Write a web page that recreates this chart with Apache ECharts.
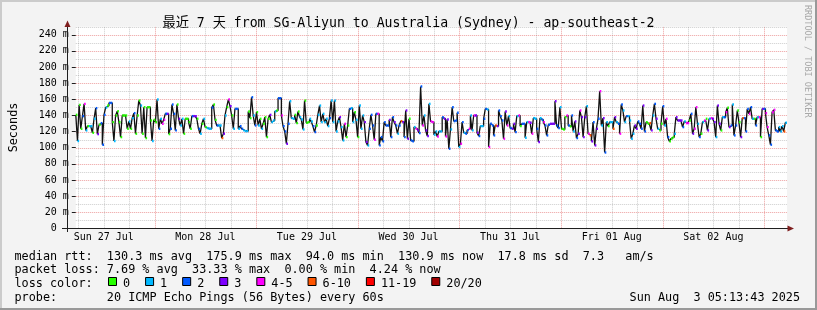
<!DOCTYPE html>
<html><head><meta charset="utf-8">
<script src="https://cdn.jsdelivr.net/npm/echarts@6/dist/echarts.min.js"></script>
<style>html,body{margin:0;padding:0;background:#f3f3f3}#c{width:817px;height:310px}</style>
</head><body><div id="c"></div>
<script>
// ---- data (median rtt in ms, loss bucket index per step) ----
const rttPart1 = [140.7,108.2,153.1,123.4,139.1,154.3,121.4,126.7,126.7,126.7,
118.5,135.8,149.0,116.8,128.4,130.4,103.7,140.7,149.8,152.2,
155.5,155.5,131.7,108.2,139.9,145.2,131.7,113.1,139.9,139.9,
139.9,123.4,132.5,123.4,136.6,142.8,117.3,139.9,158.4,152.2,
117.3,150.2,111.9,150.2,150.2,133.7,108.2,134.5,131.7,159.7,
123.4,135.8,129.6,134.5,142.0,142.0,116.8,123.4,153.5,142.0,
121.4,153.5,135.8,127.5,135.8,117.3,135.8,135.8,131.7,123.4,
139.1,139.1,139.1,135.8,123.4,117.3,129.6,135.8,125.5,124.3,
123.4,123.4,149.8,153.5,134.5,127.5,127.5,127.5,111.9,117.3,
139.9,150.2,159.7,151.4,139.9,123.4,148.1,148.1,123.4,126.7,
123.4,121.4,120.5,120.5,144.8,136.6,162.5];
const lossPart1 = [0,1,0,0,2,4,1,0,1,1,
0,1,2,3,0,2,2,2,1,0,2,2,
0,1,0,0,0,0,0,0,0,
0,1,0,1,2,0,0,0,1,0,0,0,0,0,
0,1,0,0,1,2,1,4,4,2,3,0,2,2,2,
2,0,3,1,1,0,0,0,
0,0,2,3,3,
0,2,1,0,1,0,1,1,1,
2,0,0,2,1,1,
5,3,1,0,4,3,0,1,2,2,
1,2,2,1,1,1,
0,0,2];
const rttPart2 = [139.9,127.5,144.0,127.5,135.8,123.4,129.6,137.8,113.1,135.8,
140.7,131.7,133.7,144.8,146.1,161.3,161.3,139.9,126.7,120.1,
104.9,129.6,157.6,136.6,135.8,140.7,130.4,144.8,137.8,135.0,
122.6,158.4,130.8,131.7,135.8,132.5,126.7,119.3,127.5,140.7,
152.2,131.7,142.0,131.7,135.8,126.7,136.6,158.4,131.7,158.4,
120.1,132.5,137.8,125.5,109.0,129.6,113.1,127.5,148.1,149.0,
131.7,144.0,134.5,113.1,152.2,123.4,139.9,131.7,107.0,102.8,
123.4,140.7,127.5,109.8,142.0,142.0,102.8,113.1,107.8,131.7,
127.5,127.5,134.5,113.1,137.8,131.7,127.5,117.3,127.5,132.9,
131.7,113.1,146.1,111.1,135.8,109.0,107.8,125.5,123.4,121.4,
118.1,175.9,127.5,139.9,121.4,114.4,154.3];
const lossPart2 = [1,2,0,1,0,1,0,0,0,0,
3,1,1,1,0,2,2,4,2,2,
3,2,1,1,1,0,0,0,1,1,
1,0,0,0,1,1,2,2,0,1,
1,1,1,1,1,1,2,1,1,1,
1,1,3,1,1,4,0,0,2,1,
1,0,1,0,1,1,1,3,3,1,
2,2,2,4,2,4,2,2,2,2,
2,2,3,2,2,3,2,1,2,5,
3,2,3,3,0,2,2,1,4,3,
2,2,4,1,3,3,1];
const rttPart3 = [132.5,131.7,116.0,120.1,113.9,120.1,120.1,137.8,135.8,113.9,
135.0,98.7,122.6,150.2,132.9,133.7,143.2,100.8,104.9,131.7,
118.5,117.3,121.4,123.4,139.9,121.4,139.9,139.9,118.5,114.4,
126.7,126.7,135.8,148.1,147.3,100.8,129.6,127.5,115.2,127.5,
126.7,146.1,139.1,133.7,111.1,144.8,127.5,139.1,124.3,123.4,
129.6,119.3,139.1,139.9,126.7,129.6,129.6,112.3,131.7,131.7,
130.8,117.3,136.6,135.8,123.4,107.0,136.6,134.5,131.7,127.5,
115.2,128.4,129.6,129.6,129.6,157.6,127.5,124.3,150.2,123.4,
122.6,137.8,139.9,127.5,126.3,139.9,120.1,132.5,111.9,117.3,
146.1,137.8,113.1,137.8,151.4,117.3,115.2,107.8,131.7,102.8,
123.4,135.8,170.0,127.5,136.6,94.0,131.7,126.7];
const lossPart3 = [4,4,1,1,4,1,1,2,3,4,
3,2,1,2,2,2,2,1,4,2,
1,2,2,4,1,1,4,3,3,2,
1,1,2,2,1,4,2,2,2,5,
3,2,2,2,4,3,4,1,2,3,
3,2,1,4,0,2,2,1,1,4,
3,4,1,1,2,3,1,2,4,2,
2,2,3,3,3,3,2,2,1,0,
0,0,4,2,0,2,1,3,2,3,
4,3,3,3,1,4,5,3,2,3,
3,2,4,1,3,2,1,0];
const rttPart4 = [131.7,131.7,123.4,137.8,131.7,129.6,117.3,153.5,146.1,131.7,
139.1,139.1,133.7,111.1,117.3,127.5,123.4,132.5,129.6,123.4,
152.2,120.1,131.7,129.6,130.4,121.4,139.9,154.3,135.8,123.4,
121.4,129.6,151.4,127.5,135.8,113.1,107.8,111.1,113.1,117.3,
137.8,133.7,133.7,133.7,125.5,132.5,130.4,130.4,133.7,142.0,
117.3,123.4,150.2,129.6,113.1,117.3,131.7,133.7,135.8,121.4,
135.8,136.6,135.8,131.7,113.1,152.2,129.6,121.4,137.8,137.8,
144.0,149.4,125.5,127.5,153.5,115.2,127.5,146.1,131.7,113.1,
136.6,136.6,120.1,148.1,142.0,150.2,135.8,135.8,127.5,137.8,
137.8,113.1,148.1,148.1,142.8,125.5,115.2,103.7,144.0,146.9,
121.4,120.1,125.5,120.1,126.7,120.1,130.9];
const lossPart4 = [1,1,5,3,1,2,4,2,1,1,
2,1,1,1,1,3,3,2,2,2,
3,2,0,0,5,3,1,2,3,1,
0,0,2,1,4,2,0,0,0,1,
3,3,3,3,2,1,4,4,0,2,
3,4,4,1,2,0,1,4,0,3,
1,4,3,3,1,3,3,0,1,2,
4,0,3,2,1,2,2,0,0,3,
5,2,2,2,4,2,1,0,2,1,
4,0,3,2,4,4,2,2,4,4,
2,2,1,1,1,5,1];

const dayLabels = ['Sun 27 Jul','Mon 28 Jul','Tue 29 Jul','Wed 30 Jul','Thu 31 Jul','Fri 01 Aug','Sat 02 Aug'];
const yTickValues = [0,20,40,60,80,100,120,140,160,180,200,220,240];
const lossColors = ['#26ff00','#00b8ff','#0059ff','#7e00ff','#ff00ff','#ff5500','#ff0000','#a10000'];
const lossLabels = ['0','1','2','3','4-5','6-10','11-19','20/20'];
const titleText = '最近 7 天 from SG-Aliyun to Australia (Sydney) - ap-southeast-2';
const legendLine1 = 'median rtt:  130.3 ms avg  175.9 ms max  94.0 ms min  130.9 ms now  17.8 ms sd  7.3   am/s';
const legendLine2 = 'packet loss: 7.69 % avg  33.33 % max  0.00 % min  4.24 % now';
const legendLine3 = 'loss color:';
const legendLine4 = 'probe:       20 ICMP Echo Pings (56 Bytes) every 60s';
const stampText = 'Sun Aug  3 05:13:43 2025';
const sideText = 'RRDTOOL / TOBI OETIKER';

// ---- build ----
const T0 = 5.4, SPAN = 168, YMAX = 250;   // hours since Sun 27 Jul 00:00
const rtt = rttPart1.concat(rttPart2, rttPart3, rttPart4);
const loss = lossPart1.concat(lossPart2, lossPart3, lossPart4);
const N = rtt.length, dt = SPAN / N;
const stepData = rtt.map((v, i) => [T0 + i * dt, v]);
stepData.push([T0 + SPAN, rtt[N - 1]]);
const capData = rtt.map((v, i) => [T0 + i * dt, v, T0 + (i + 1) * dt, loss[i]]);

const vGrid = [];
for (let h = 6; h < T0 + SPAN; h += 6) if (h > T0) vGrid.push([h, 0, h % 24 === 0 ? 1 : 0]);
const hGrid = [];
for (let v = 10; v <= YMAX; v += 10) hGrid.push([T0, v, v % 20 === 0 ? 1 : 0]);
const noonTicks = dayLabels.map((d, i) => 12 + 24 * i);

const MONO = '"DejaVu Sans Mono", "Noto Sans CJK SC", monospace';
const MINOR = 'rgba(143,143,143,0.45)', MAJOR = 'rgba(222,80,80,0.55)';
const LEG_X = 14.5, LEG_Y = [256.5, 270.2, 283.9, 297.6];

const chart = echarts.init(document.getElementById('c'), null, {renderer: 'canvas'});

const legendText = (t, x, y, align) => ({type:'text', x:x, y:y,
  style:{text:t, font:'11.8px '+MONO, fill:'#000', align:align || 'left', verticalAlign:'middle'}});

const graphics = [
  {type:'rect', shape:{x:0,y:0,width:817,height:2}, style:{fill:'#cbcbcb'}, z:100},
  {type:'rect', shape:{x:0,y:0,width:2,height:310}, style:{fill:'#cbcbcb'}, z:100},
  {type:'rect', shape:{x:815,y:0,width:2,height:310}, style:{fill:'#999999'}, z:100},
  {type:'rect', shape:{x:0,y:308,width:817,height:2}, style:{fill:'#999999'}, z:100},
  // axes
  {type:'line', shape:{x1:62,y1:228.5,x2:788,y2:228.5}, style:{stroke:'#1f1f1f',lineWidth:1}, z:50},
  {type:'line', shape:{x1:67.5,y1:232,x2:67.5,y2:26}, style:{stroke:'#1f1f1f',lineWidth:1}, z:50},
  {type:'polygon', shape:{points:[[787.5,225.5],[794,228.5],[787.5,231.5]]}, style:{fill:'#7f1f1f'}, z:50},
  {type:'polygon', shape:{points:[[64.5,27],[67.5,20.5],[70.5,27]]}, style:{fill:'#7f1f1f'}, z:50},
  {type:'text', x:408.5, y:23.7, style:{text:titleText, font:'13.2px '+MONO, fill:'#000', align:'center', verticalAlign:'middle'}},
  {type:'text', x:807, y:5, rotation:-Math.PI/2, style:{text:sideText, font:'8.5px '+MONO, fill:'#a8a8a8', align:'left', verticalAlign:'middle'}},
  legendText(legendLine1, LEG_X, LEG_Y[0]),
  legendText(legendLine2, LEG_X, LEG_Y[1]),
  legendText(legendLine3, LEG_X, LEG_Y[2]),
  legendText(legendLine4, LEG_X, LEG_Y[3]),
  legendText(stampText, 800, LEG_Y[3], 'right')
];
let lx = 108;
lossLabels.forEach((lab, i) => {
  graphics.push({type:'rect', shape:{x:lx+0.5,y:277.5,width:8,height:8}, style:{fill:lossColors[i], stroke:'#000', lineWidth:1}});
  graphics.push(legendText(lab, lx + 15, LEG_Y[2]));
  lx += 30 + 7.08 * lab.length;
});

chart.setOption({
  animation: false,
  backgroundColor: '#f3f3f3',
  grid: {left: 67, right: 30, top: 26.7, bottom: 81.7, show: true, backgroundColor: '#ffffff', borderWidth: 0},
  xAxis: {
    type: 'value', min: T0, max: T0 + SPAN,
    axisLine: {show: false}, axisTick: {show: false}, splitLine: {show: false},
    axisLabel: {customValues: noonTicks, margin: 4, fontFamily: MONO, fontSize: 10, color: '#000',
      formatter: v => dayLabels[Math.round((v - 12) / 24)] || ''}
  },
  yAxis: {
    type: 'value', min: 0, max: YMAX,
    name: 'Seconds', nameLocation: 'middle', nameRotate: 90, nameGap: 56,
    nameTextStyle: {fontFamily: MONO, fontSize: 11.8, color: '#000'},
    axisLine: {show: false}, splitLine: {show: false},
    axisTick: {show: true, customValues: yTickValues, length: 4, lineStyle: {color: '#1f1f1f'}},
    axisLabel: {customValues: yTickValues, margin: 7, fontFamily: MONO, fontSize: 10, color: '#000',
      formatter: v => v === 0 ? '{z|0}' : v + ' m',
      rich: {z: {fontFamily: MONO, fontSize: 10, color: '#000', padding: [0, 12, 0, 0]}}}
  },
  graphic: graphics,
  series: [
    {type:'custom', z:1, silent:true, clip:true, data:vGrid, encode:{x:0,y:1},
      renderItem(params, api) {
        const h = api.value(0);
        const p0 = api.coord([h, 0]), p1 = api.coord([h, YMAX]);
        const x = Math.round(p0[0]) + 0.5;
        return {type:'line', shape:{x1:x,y1:p1[1],x2:x,y2:p0[1]},
          style:{stroke: api.value(2) ? MAJOR : MINOR, lineWidth:1, lineDash:[1,1]}};
      }},
    {type:'custom', z:1, silent:true, clip:false, data:hGrid, encode:{x:0,y:1},
      renderItem(params, api) {
        const v = api.value(1);
        const p0 = api.coord([T0, v]), p1 = api.coord([T0 + SPAN, v]);
        const y = Math.round(p0[1]) + 0.5;
        return {type:'line', shape:{x1:p0[0],y1:y,x2:p1[0],y2:y},
          style:{stroke: api.value(2) ? MAJOR : MINOR, lineWidth:1, lineDash:[1,1]}};
      }},
    {type:'line', z:3, step:'end', data:stepData, symbol:'none', silent:true,
      lineStyle:{color:'#111111', width:1.3}},
    {type:'custom', z:4, silent:true, data:capData, encode:{x:[0,2], y:1},
      renderItem(params, api) {
        const a = api.coord([api.value(0), api.value(1)]);
        const b = api.coord([api.value(2), api.value(1)]);
        return {type:'rect', shape:{x:a[0], y:a[1]-1.2, width:Math.max(1.4, b[0]-a[0]), height:2.4},
          style:{fill: lossColors[api.value(3)]}};
      }}
  ]
});
</script></body></html>
